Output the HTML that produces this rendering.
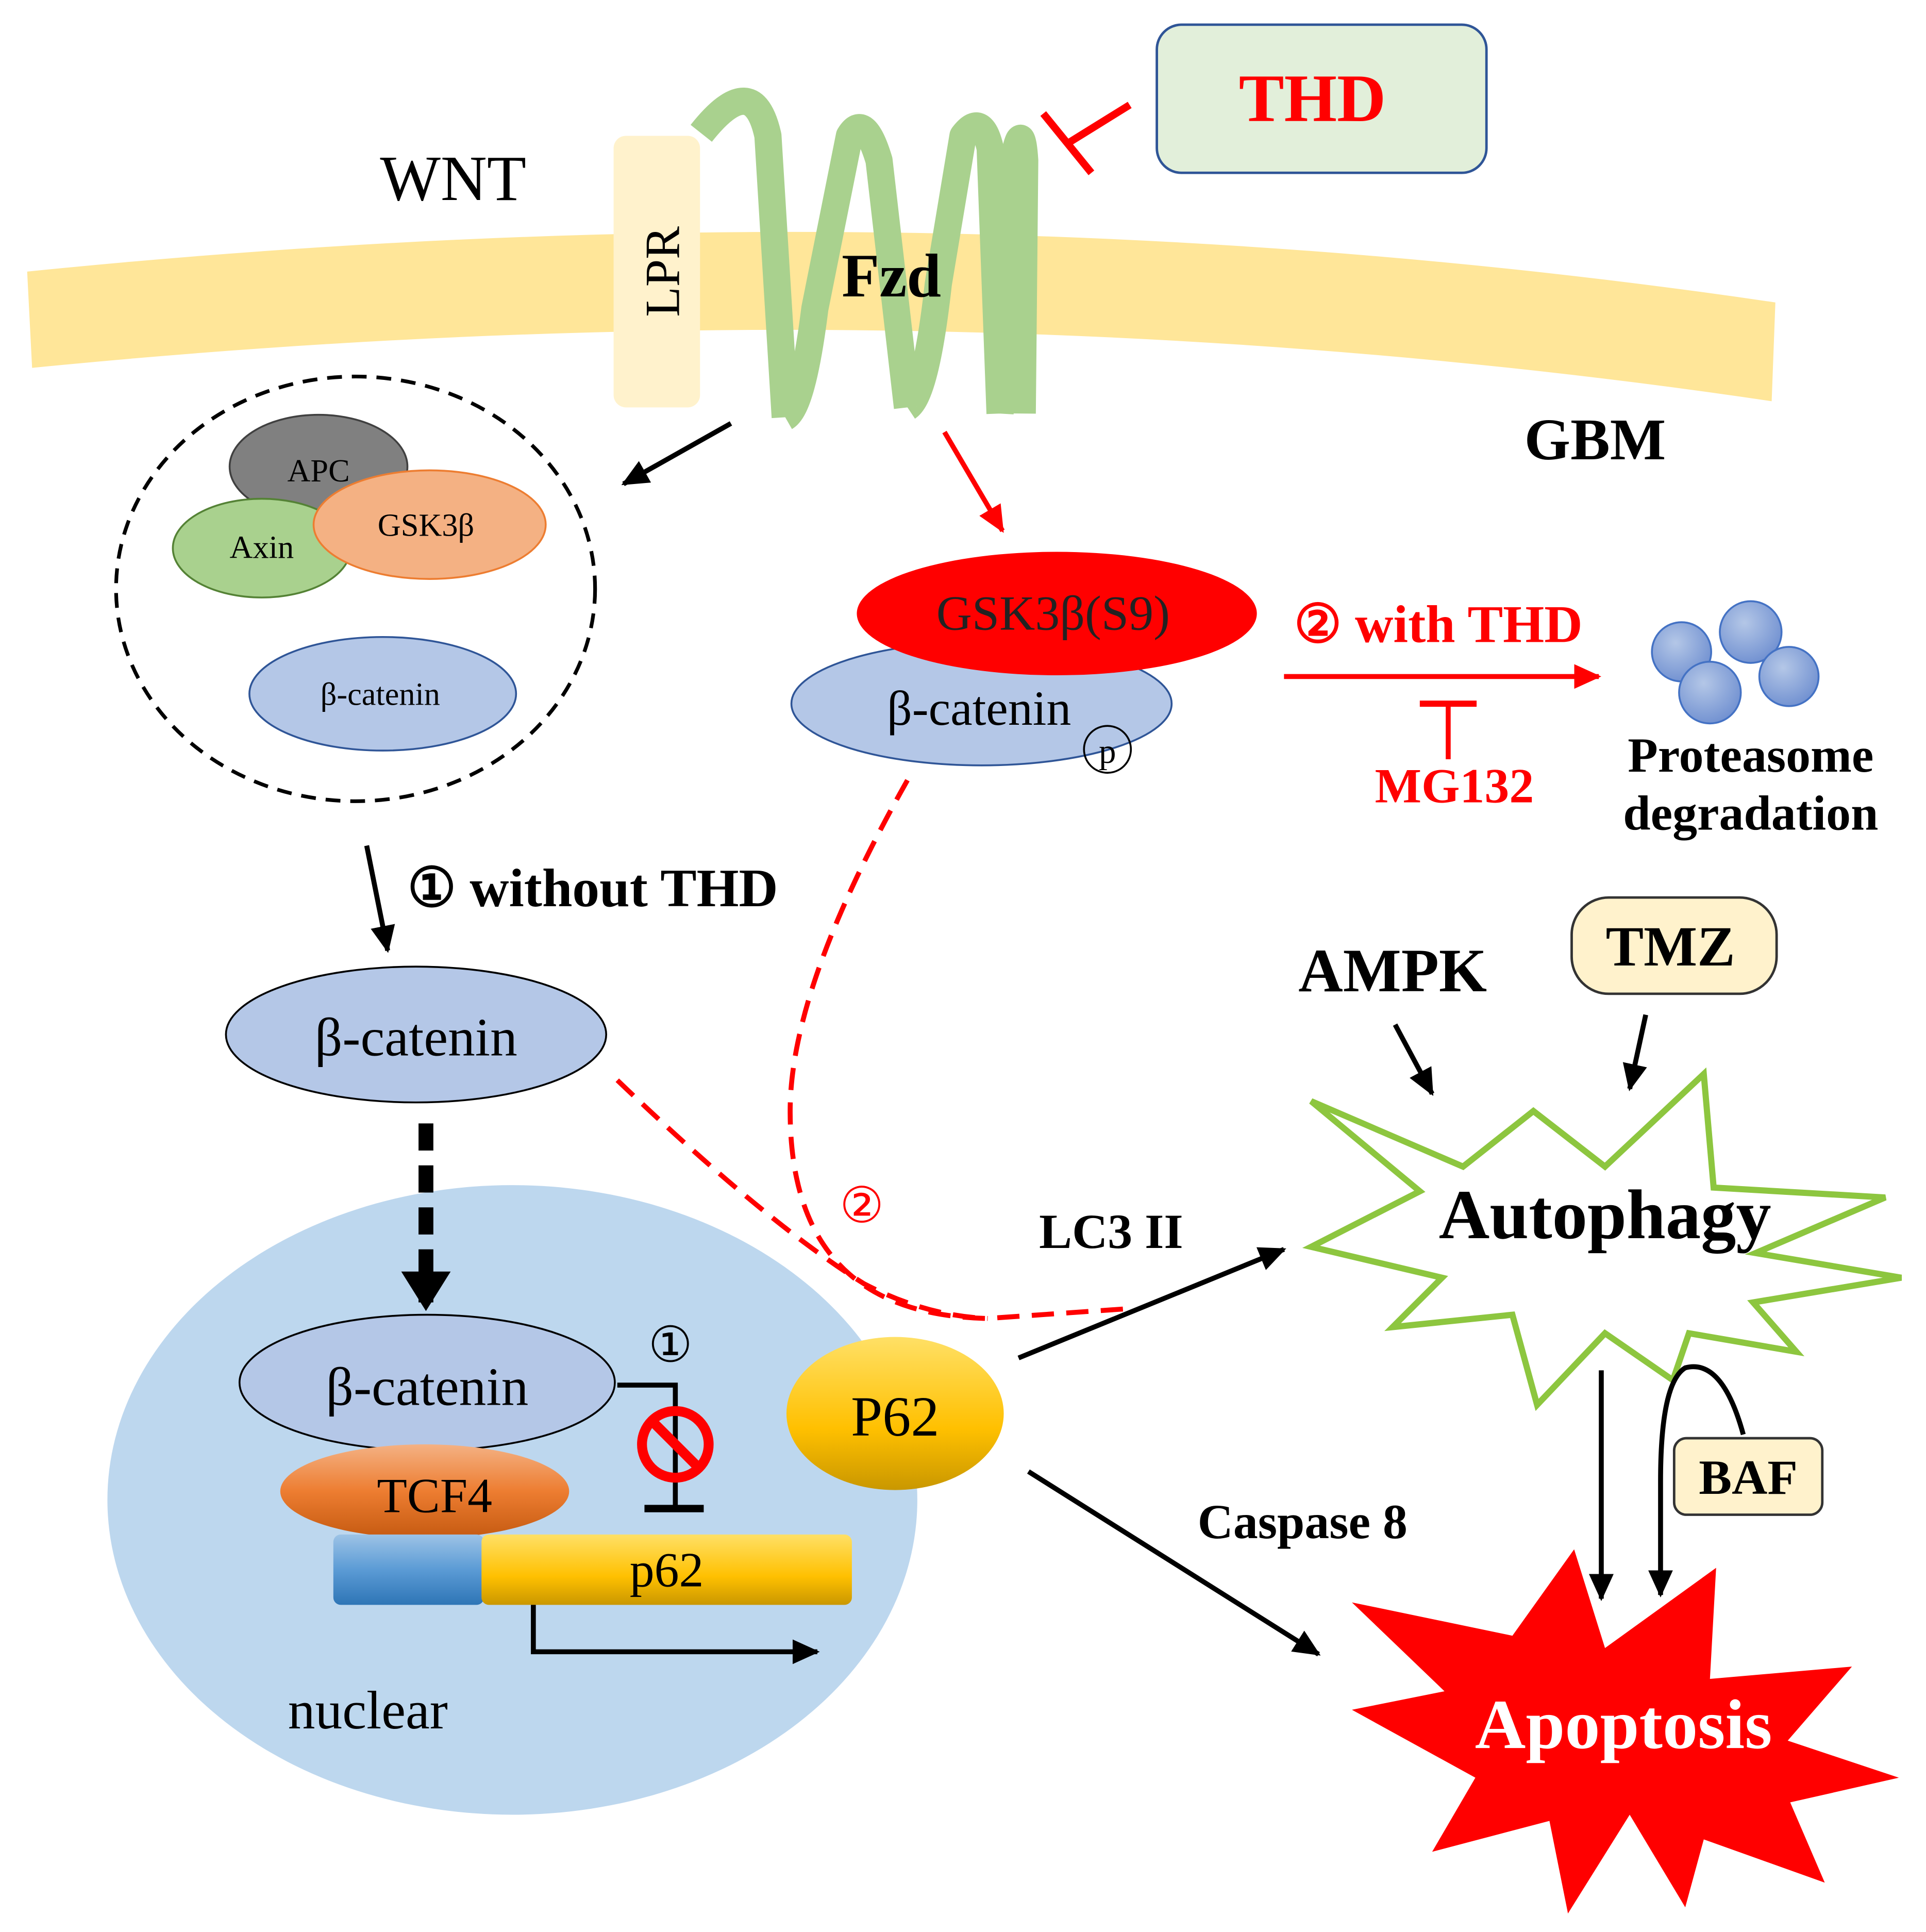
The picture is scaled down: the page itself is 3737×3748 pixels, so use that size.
<!DOCTYPE html>
<html><head><meta charset="utf-8"><style>html,body{margin:0;padding:0;background:#fff}svg{display:block}</style></head>
<body>
<svg width="3737" height="3748" viewBox="0 0 1560 1565" preserveAspectRatio="none" xmlns="http://www.w3.org/2000/svg" font-family="Liberation Serif, serif">
<defs>
<marker id="ab" markerWidth="6" markerHeight="6" refX="5" refY="3" orient="auto" markerUnits="strokeWidth"><path d="M0,0.5 L5.5,3 L0,5.5 Z" fill="#000"/></marker>
<marker id="ar" markerWidth="6" markerHeight="6" refX="5" refY="3" orient="auto" markerUnits="strokeWidth"><path d="M0,0.5 L5.5,3 L0,5.5 Z" fill="#f00"/></marker>
<linearGradient id="gold" x1="0" y1="0" x2="0" y2="1"><stop offset="0" stop-color="#FFE066"/><stop offset="0.6" stop-color="#FFC000"/><stop offset="1" stop-color="#C99700"/></linearGradient>
<linearGradient id="blue" x1="0" y1="0" x2="0" y2="1"><stop offset="0" stop-color="#9DC3E6"/><stop offset="0.5" stop-color="#5B9BD5"/><stop offset="1" stop-color="#2E75B6"/></linearGradient>
<linearGradient id="org" x1="0" y1="0" x2="0" y2="1"><stop offset="0" stop-color="#F4B183"/><stop offset="0.5" stop-color="#ED7D31"/><stop offset="1" stop-color="#C55A11"/></linearGradient>
<radialGradient id="sph" cx="0.4" cy="0.35" r="0.7"><stop offset="0" stop-color="#B4C7E7"/><stop offset="1" stop-color="#6F8FD0"/></radialGradient>
</defs>
<path d="M22,220 Q760,145 1438,245 L1435,325 Q760,225 26,298 Z" fill="#FFE699"/>
<text x="367" y="162" font-size="52" text-anchor="middle">WNT</text>
<rect x="497" y="110" width="70" height="220" rx="10" fill="#FFF2CC"/>
<text transform="translate(550,220) rotate(-90)" font-size="40" text-anchor="middle">LPR</text>
<path d="M568,108 Q610,55 622,110 L636,338 M636,338 Q650,330 660,250 L688,110 Q700,90 712,130 L735,330 M735,330 Q750,320 760,230 L780,110 Q795,90 802,120 L810,335 M810,335 L823,120 Q828,100 830,130 L828,335" fill="none" stroke="#A9D18E" stroke-width="22" stroke-linejoin="round"/>
<text x="722" y="240" font-size="50" font-weight="bold" text-anchor="middle">Fzd</text>
<rect x="937" y="20" width="267" height="120" rx="20" fill="#E2EFDA" stroke="#2F5597" stroke-width="2"/>
<text x="1063" y="98" font-size="55" font-weight="bold" fill="#f00" text-anchor="middle">THD</text>
<line x1="915" y1="85" x2="865" y2="116" stroke="#f00" stroke-width="6"/>
<line x1="845" y1="92" x2="884" y2="140" stroke="#f00" stroke-width="6"/>
<text x="1292" y="372" font-size="48" font-weight="bold" text-anchor="middle">GBM</text>
<ellipse cx="288" cy="477" rx="194" ry="172" fill="none" stroke="#000" stroke-width="3" stroke-dasharray="12,8"/>
<ellipse cx="258" cy="378" rx="72" ry="42" fill="#808080" stroke="#404040" stroke-width="1.5"/>
<text x="258" y="390" font-size="26" text-anchor="middle">APC</text>
<ellipse cx="212" cy="444" rx="72" ry="40" fill="#A9D18E" stroke="#548235" stroke-width="1.5"/>
<text x="212" y="452" font-size="26" text-anchor="middle">Axin</text>
<ellipse cx="348" cy="425" rx="94" ry="44" fill="#F4B183" stroke="#ED7D31" stroke-width="1.5"/>
<text x="345" y="434" font-size="26" text-anchor="middle">GSK3β</text>
<ellipse cx="310" cy="562" rx="108" ry="46" fill="#B4C7E7" stroke="#2F5597" stroke-width="1.5"/>
<text x="308" y="571" font-size="26" text-anchor="middle">β-catenin</text>
<line x1="592" y1="343" x2="505" y2="392" stroke="#000" stroke-width="4" marker-end="url(#ab)"/>
<line x1="765" y1="350" x2="812" y2="430" stroke="#f00" stroke-width="4" marker-end="url(#ar)"/>
<ellipse cx="795" cy="570" rx="154" ry="50" fill="#B4C7E7" stroke="#2F5597" stroke-width="1.5"/>
<ellipse cx="856" cy="497" rx="162" ry="50" fill="#f00"/>
<text x="853" y="510" font-size="40" text-anchor="middle" fill="#222">GSK3β(S9)</text>
<text x="793" y="587" font-size="40" text-anchor="middle">β-catenin</text>
<circle cx="897" cy="607" r="19" fill="none" stroke="#000" stroke-width="1.5"/>
<text x="897" y="618" font-size="28" text-anchor="middle">p</text>
<text x="1165" y="520" font-size="43" font-weight="bold" fill="#f00" text-anchor="middle">② with THD</text>
<line x1="1040" y1="548" x2="1295" y2="548" stroke="#f00" stroke-width="4" marker-end="url(#ar)"/>
<line x1="1173" y1="570" x2="1173" y2="615" stroke="#f00" stroke-width="4"/>
<line x1="1150" y1="570" x2="1196" y2="570" stroke="#f00" stroke-width="5"/>
<text x="1178" y="650" font-size="40" font-weight="bold" fill="#f00" text-anchor="middle">MG132</text>
<circle cx="1362" cy="528" r="24" fill="url(#sph)" stroke="#4472C4" stroke-width="1.5"/>
<circle cx="1418" cy="512" r="25" fill="url(#sph)" stroke="#4472C4" stroke-width="1.5"/>
<circle cx="1449" cy="548" r="24" fill="url(#sph)" stroke="#4472C4" stroke-width="1.5"/>
<circle cx="1385" cy="561" r="25" fill="url(#sph)" stroke="#4472C4" stroke-width="1.5"/>
<text x="1418" y="625" font-size="40" font-weight="bold" text-anchor="middle">Proteasome</text>
<text x="1418" y="672" font-size="40" font-weight="bold" text-anchor="middle">degradation</text>
<line x1="297" y1="685" x2="314" y2="770" stroke="#000" stroke-width="4" marker-end="url(#ab)"/>
<text x="330" y="734" font-size="44" font-weight="bold">① without THD</text>
<ellipse cx="415" cy="1215" rx="328" ry="255" fill="#BDD7EE"/>
<ellipse cx="337" cy="838" rx="154" ry="55" fill="#B4C7E7" stroke="#000" stroke-width="1.5"/>
<text x="337" y="855" font-size="44" text-anchor="middle">β-catenin</text>
<line x1="345" y1="910" x2="345" y2="1055" stroke="#000" stroke-width="12" stroke-dasharray="22,12"/>
<path d="M325,1030 L365,1030 L345,1062 Z" fill="#000"/>
<path d="M735,632 Q640,800 640,900 Q640,1065 800,1068 L915,1060" fill="none" stroke="#f00" stroke-width="4" stroke-dasharray="18,10"/>
<path d="M500,875 Q620,990 700,1040 Q750,1066 800,1068" fill="none" stroke="#f00" stroke-width="4" stroke-dasharray="18,10"/>
<text x="698" y="990" font-size="40" fill="#f00" text-anchor="middle">②</text>
<ellipse cx="346" cy="1120" rx="152" ry="55" fill="#B4C7E7" stroke="#000" stroke-width="1.5"/>
<text x="346" y="1138" font-size="44" text-anchor="middle">β-catenin</text>
<ellipse cx="344" cy="1208" rx="117" ry="38" fill="url(#org)"/>
<text x="352" y="1225" font-size="40" text-anchor="middle">TCF4</text>
<rect x="270" y="1243" width="122" height="57" rx="6" fill="url(#blue)"/>
<rect x="390" y="1243" width="300" height="57" rx="6" fill="url(#gold)"/>
<text x="540" y="1285" font-size="40" text-anchor="middle">p62</text>
<polyline points="432,1300 432,1338 662,1338" fill="none" stroke="#000" stroke-width="4" marker-end="url(#ab)"/>
<polyline points="500,1122 547,1122 547,1222" fill="none" stroke="#000" stroke-width="4"/>
<line x1="522" y1="1222" x2="570" y2="1222" stroke="#000" stroke-width="6"/>
<circle cx="547" cy="1170" r="27" fill="none" stroke="#f00" stroke-width="8"/>
<line x1="528" y1="1151" x2="566" y2="1189" stroke="#f00" stroke-width="8"/>
<text x="543" y="1103" font-size="40" text-anchor="middle">①</text>
<ellipse cx="725" cy="1145" rx="88" ry="62" fill="url(#gold)"/>
<text x="725" y="1163" font-size="46" text-anchor="middle">P62</text>
<text x="298" y="1400" font-size="44" text-anchor="middle">nuclear</text>
<text x="900" y="1011" font-size="40" font-weight="bold" text-anchor="middle">LC3 II</text>
<line x1="825" y1="1100" x2="1040" y2="1012" stroke="#000" stroke-width="4" marker-end="url(#ab)"/>
<text x="1055" y="1246" font-size="40" font-weight="bold" text-anchor="middle">Caspase 8</text>
<line x1="833" y1="1192" x2="1068" y2="1340" stroke="#000" stroke-width="4" marker-end="url(#ab)"/>
<text x="1128" y="803" font-size="50" font-weight="bold" text-anchor="middle">AMPK</text>
<line x1="1130" y1="830" x2="1160" y2="886" stroke="#000" stroke-width="4" marker-end="url(#ab)"/>
<rect x="1273" y="727" width="166" height="78" rx="30" fill="#FFF2CC" stroke="#333" stroke-width="2"/>
<text x="1353" y="782" font-size="46" font-weight="bold" text-anchor="middle">TMZ</text>
<line x1="1333" y1="822" x2="1320" y2="882" stroke="#000" stroke-width="4" marker-end="url(#ab)"/>
<path d="M1062,892 L1185,945 L1242,900 L1300,945 L1380,870 L1388,962 L1527,970 L1422,1015 L1540,1035 L1420,1055 L1455,1095 L1368,1080 L1355,1118 L1300,1080 L1245,1138 L1225,1065 L1128,1075 L1168,1035 L1062,1010 L1150,965 Z" fill="#fff" stroke="#8DC63F" stroke-width="5"/>
<text x="1300" y="1003" font-size="57" font-weight="bold" text-anchor="middle">Autophagy</text>
<path d="M1095,1298 L1225,1325 L1275,1255 L1300,1335 L1390,1270 L1385,1360 L1500,1350 L1448,1410 L1538,1440 L1450,1460 L1478,1525 L1380,1490 L1365,1545 L1320,1470 L1270,1550 L1255,1475 L1160,1500 L1195,1440 L1095,1385 L1170,1370 Z" fill="#f00"/>
<text x="1315" y="1416" font-size="57" font-weight="bold" fill="#fff" text-anchor="middle">Apoptosis</text>
<line x1="1297" y1="1110" x2="1297" y2="1295" stroke="#000" stroke-width="4" marker-end="url(#ab)"/>
<path d="M1412,1162 Q1395,1100 1365,1108 Q1345,1120 1345,1200 L1345,1292" fill="none" stroke="#000" stroke-width="4" marker-end="url(#ab)"/>
<rect x="1356" y="1165" width="120" height="62" rx="10" fill="#FFF2CC" stroke="#333" stroke-width="2"/>
<text x="1416" y="1210" font-size="40" font-weight="bold" text-anchor="middle">BAF</text>
</svg>
</body></html>
